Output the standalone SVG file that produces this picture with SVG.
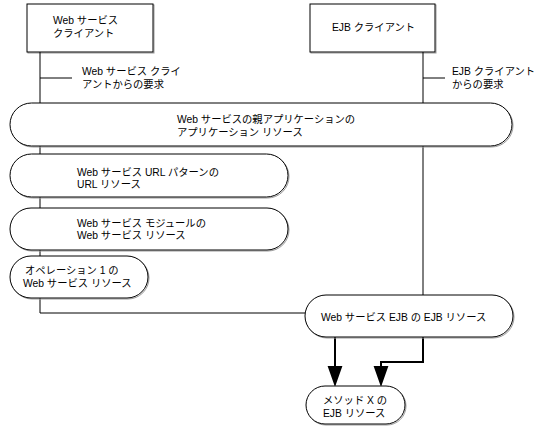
<svg xmlns="http://www.w3.org/2000/svg" width="543" height="430" viewBox="0 0 543 430">
<style>
text{font-family:"Liberation Sans","Noto Sans CJK JP",sans-serif;font-size:10.3px;fill:#000}
.box{fill:#fff;stroke:#000;stroke-width:1}
.sh{fill:none;stroke:#999;stroke-width:1}
.ln{fill:none;stroke:#000;stroke-width:1}
.ar{fill:none;stroke:#000;stroke-width:2}
</style>
<g id="ws-client">
<rect class="sh" x="28" y="5" width="126" height="48"/>
<rect class="box" x="27" y="4" width="126" height="48"/>
<text x="53" y="24">Web サービス</text>
<text x="53" y="37">クライアント</text>
</g>
<g id="ejb-client">
<rect class="sh" x="311" y="5" width="125" height="48"/>
<rect class="box" x="310" y="4" width="125" height="48"/>
<text x="332" y="31">EJB クライアント</text>
</g>
<g id="connectors">
<polyline class="ln" points="40,52 40,313 305,313"/>
<line class="ln" x1="40" y1="78" x2="72" y2="78"/>
<line class="ln" x1="423" y1="52" x2="423" y2="295"/>
<line class="ln" x1="423" y1="78" x2="445" y2="78"/>
<line class="ar" x1="335" y1="337" x2="335" y2="368"/>
<path d="M329,367 L341,367 L335,384 Z" style="fill:#000;stroke:#000;stroke-width:2;stroke-linejoin:miter"/>
<polyline class="ar" points="423,337 423,362 381,362 381,368"/>
<path d="M375,367 L387,367 L381,384 Z" style="fill:#000;stroke:#000;stroke-width:2;stroke-linejoin:miter"/>
<text x="82" y="75">Web サービス クライ</text>
<text x="82" y="88">アントからの要求</text>
<text x="452" y="75">EJB クライアント</text>
<text x="452" y="88">からの要求</text>
</g>
<g id="app-resource">
<rect class="sh" x="11" y="104" width="502" height="43" rx="21.5"/>
<rect class="box" x="10" y="103" width="502" height="43" rx="21.5"/>
<text x="177" y="123">Web サービスの親アプリケーションの</text>
<text x="177" y="136">アプリケーション リソース</text>
</g>
<g id="url-resource">
<rect class="sh" x="11" y="155" width="278" height="43" rx="21.5"/>
<rect class="box" x="10" y="154" width="278" height="43" rx="21.5"/>
<text x="77" y="176">Web サービス URL パターンの</text>
<text x="77" y="188">URL リソース</text>
</g>
<g id="module-resource">
<rect class="sh" x="11" y="209" width="278" height="42" rx="21"/>
<rect class="box" x="10" y="208" width="278" height="42" rx="21"/>
<text x="77" y="227">Web サービス モジュールの</text>
<text x="77" y="239">Web サービス リソース</text>
</g>
<g id="operation-resource">
<rect class="sh" x="11" y="257" width="138" height="42" rx="21"/>
<rect class="box" x="10" y="256" width="138" height="42" rx="21"/>
<text x="25" y="274">オペレーション 1 の</text>
<text x="23" y="287">Web サービス リソース</text>
</g>
<g id="ejb-resource">
<rect class="sh" x="306" y="296" width="208" height="42" rx="21"/>
<rect class="box" x="305" y="295" width="208" height="42" rx="21"/>
<text x="321" y="321">Web サービス EJB の EJB リソース</text>
</g>
<g id="method-resource">
<rect class="sh" x="307" y="387" width="99" height="38" rx="19"/>
<rect class="box" x="306" y="386" width="99" height="38" rx="19"/>
<text x="323" y="404">メソッド X の</text>
<text x="323" y="417">EJB リソース</text>
</g>
</svg>
